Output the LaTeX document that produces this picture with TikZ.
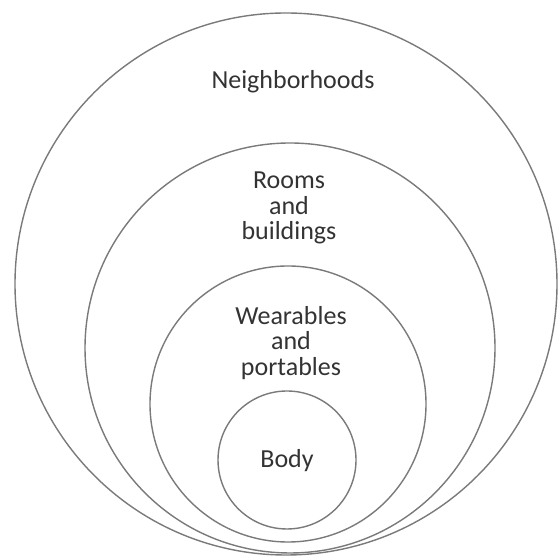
\documentclass[tikz,border=0pt]{standalone}
\usepackage{fontspec}
\setmainfont{Carlito}
\usetikzlibrary{positioning}
\definecolor{ink}{HTML}{333333}
\definecolor{ringline}{HTML}{7A7A7A}
\tikzset{
  ring/.style={circle,draw=ringline,line width=1pt,inner sep=0pt,minimum size=#1},
  zone/.style={align=center,text=ink,font=\fontsize{18.5}{18.2}\selectfont,inner sep=0pt},
}
\begin{document}
\begin{tikzpicture}
  \useasboundingbox (0,0) rectangle (14,13.925);
  % nested spheres, outermost first
  \foreach \name/\cx/\cy/\d in {
    neigh/7.15/6.825/13.55,
    rooms/7.25/5.225/10.25,
    wear/7.2/3.825/6.9,
    body/7.175/2.425/3.45%
  }{
    \node[ring=\d cm] (\name) at (\cx,\cy) {};
  }
  \node[zone] (neighlbl) at (7.325,11.875) {Neighborhoods};
  \node[zone] (roomslbl) at (7.225,8.725) {Rooms\\and\\buildings};
  \node[zone] (wearlbl) at (7.275,5.35) {Wearables\\and\\portables};
  \node[zone] (bodylbl) at (7.175,2.4) {Body};
\end{tikzpicture}
\end{document}
